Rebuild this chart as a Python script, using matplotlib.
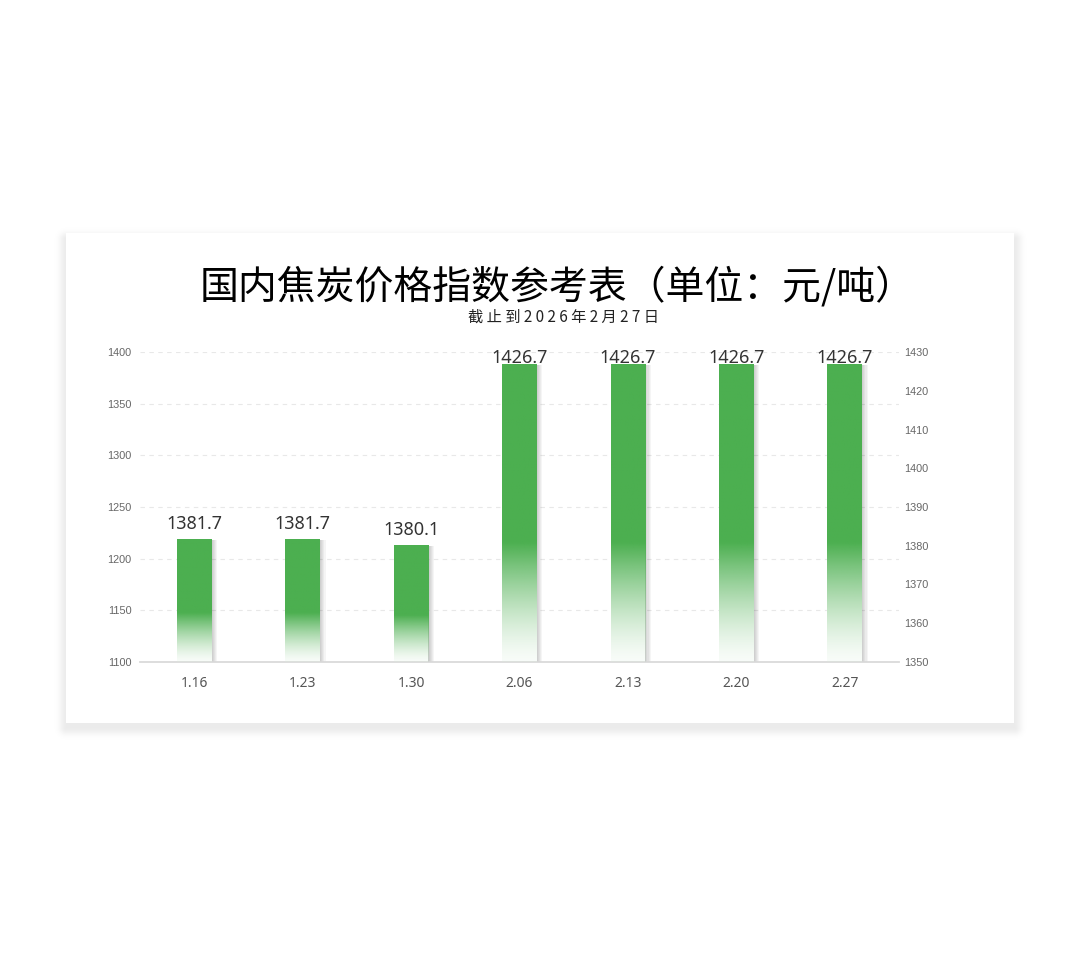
import numpy as np
import matplotlib
matplotlib.use("Agg")
import matplotlib.pyplot as plt
from matplotlib.patches import Rectangle
import matplotlib.patheffects as pe

# data
dates = ["1.16", "1.23", "1.30", "2.06", "2.13", "2.20", "2.27"]
prices = [1381.7, 1381.7, 1380.1, 1426.7, 1426.7, 1426.7, 1426.7]
left_ticks = [1100, 1150, 1200, 1250, 1300, 1350, 1400]
right_ticks = [1350, 1360, 1370, 1380, 1390, 1400, 1410, 1420, 1430]

title = "国内焦炭价格指数参考表（单位：元/吨）"
subtitle = "截 止 到 2 0 2 6 年 2 月 2 7 日"

green = np.array([76, 175, 80]) / 255.0

W, H = 1080, 957
fig = plt.figure(figsize=(W / 100, H / 100), dpi=100)
fig.patch.set_facecolor("white")

# card with soft drop shadow (blurred edge built as an image, row 0 = top)
cx0, cy0, cx1, cy1 = 66, 233, 1014, 723
yy, xx = np.mgrid[0:H, 0:W]
dx = np.maximum(np.maximum(cx0 - xx, xx - cx1), 0)
dy = np.maximum(np.maximum(cy0 + 6 - yy, yy - (cy1 + 4)), 0)
d = np.hypot(dx, dy)
sh = np.zeros((H, W, 4))
sh[..., 3] = 0.08 * np.exp(-(d / 7.0) ** 2)
fig.figimage(sh, xo=0, yo=0, zorder=0, origin="upper")
fig.patches.append(Rectangle((cx0 / W, 1 - cy1 / H), (cx1 - cx0) / W, (cy1 - cy0) / H,
                             transform=fig.transFigure, facecolor="white",
                             edgecolor="none", zorder=1))

ax = fig.add_axes([140 / W, 1 - 662 / H, 759 / W, 310 / H])
ax.set_zorder(2)
ax.patch.set_alpha(0)
ax2 = ax.twinx()

x = np.arange(len(dates))
ax.set_xlim(-0.5, len(dates) - 0.5)
ax.set_ylim(1100, 1400)
ax2.set_ylim(1350, 1430)

ax.set_yticks(left_ticks)
ax2.set_yticks(right_ticks)
ax.set_yticklabels([str(t) for t in left_ticks], fontsize=7.8, color="#666666", family="Liberation Sans")
ax2.set_yticklabels([str(t) for t in right_ticks], fontsize=7.8, color="#666666", family="Liberation Sans")
ax.tick_params(axis="y", length=0, pad=6)
ax2.tick_params(axis="y", length=0, pad=4)

ax.set_xticks(x)
ax.set_xticklabels(dates, fontsize=10, color="#555555", family="Noto Sans")
ax.tick_params(axis="x", length=0, pad=10)

ax.grid(axis="y", color="#e8e8e8", linestyle=(0, (4, 4)), linewidth=0.8)
ax.set_axisbelow(True)

for a in (ax, ax2):
    for s in ("left", "right", "top"):
        a.spines[s].set_visible(False)
    a.spines["bottom"].set_color("#dddddd")
    a.spines["bottom"].set_linewidth(1.2)

# bars: white base with soft shadow, then gradient image on top
shadow = [pe.SimplePatchShadow(offset=(k * 0.8, -0.3), shadow_rgbFace="black", alpha=0.04)
          for k in range(1, 6)]
bars = ax2.bar(x, [p - 1350 for p in prices], bottom=1350, width=0.32,
               color="white", edgecolor="none", zorder=2)
for b in bars:
    b.set_path_effects(shadow + [pe.Normal()])

n = 200
t = np.linspace(0, 1, n)  # 0 at bottom, 1 at top
alpha = np.clip((t / 0.40), 0, 1) ** 1.4
alpha = 0.04 + 0.96 * alpha
grad = np.zeros((n, 1, 4))
grad[:, 0, :3] = green
grad[:, 0, 3] = alpha

for b, p in zip(bars, prices):
    x0 = b.get_x()
    ax2.imshow(grad, extent=(x0, x0 + b.get_width(), b.get_y(), b.get_y() + b.get_height()),
               origin="lower", aspect="auto", zorder=3, interpolation="bilinear")
    ax2.text(x0 + b.get_width() / 2, min(p + 2.6, 1427.2), f"{p:.1f}",
             ha="center", va="baseline", fontsize=13, color="#333333", family="Noto Sans")

ax.set_xlim(-0.5, len(dates) - 0.5)
ax2.set_xlim(-0.5, len(dates) - 0.5)
ax2.set_ylim(1350, 1430)

fig.text(0.516, 1 - 287 / H, title, ha="center", va="center", fontsize=28,
         family=["Noto Sans CJK SC", "DejaVu Sans"], color="black", zorder=5)
fig.text(0.522, 1 - 317 / H, subtitle, ha="center", va="center", fontsize=11,
         family=["Noto Sans CJK SC", "DejaVu Sans"], color="#222222", zorder=5)

fig.savefig("out.png", dpi=100, facecolor="white")
